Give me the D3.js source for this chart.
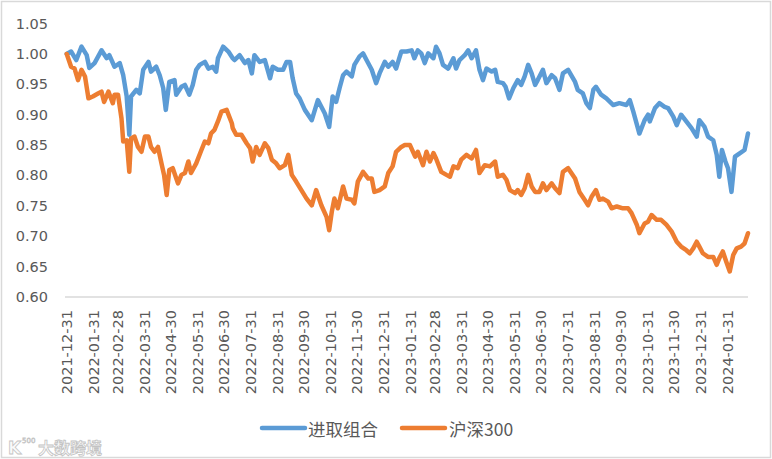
<!DOCTYPE html>
<html>
<head>
<meta charset="utf-8">
<script src="https://cdn.jsdelivr.net/npm/d3@7"></script>
<style>
  body { margin: 0; background: #fff; }
  text { font-family: "DejaVu Sans", sans-serif; }
</style>
</head>
<body>
<div class="chart"></div>
<script>
// series names (legend)
var seriesNames = ["进取组合", "沪深300"];

// [days after 2021-12-31, value]
var jinquData = [[0,1.000],[5,1.004],[11,0.990],[17,1.012],[23,0.998],[26,0.977],[32,0.985],[40,1.006],[46,0.993],[49,0.998],
  [55,0.979],[61,0.985],[65,0.965],[69,0.930],[72,0.867],[74,0.930],[80,0.941],[84,0.935],[88,0.974],[94,0.987],
  [97,0.971],[103,0.979],[107,0.965],[111,0.944],[114,0.908],[118,0.954],[124,0.957],[126,0.933],[132,0.946],[136,0.949],
  [141,0.933],[145,0.949],[149,0.974],[153,0.982],[159,0.987],[163,0.976],[168,0.979],[172,0.971],[174,0.993],[180,1.012],
  [186,1.004],[191,0.993],[193,0.990],[199,0.998],[205,0.985],[209,0.990],[213,0.968],[216,0.998],[222,0.987],[228,0.990],
  [234,0.960],[237,0.979],[243,0.974],[249,0.974],[253,0.987],[257,0.987],[260,0.960],[264,0.935],[268,0.927],[274,0.908],
  [282,0.891],[289,0.924],[293,0.913],[297,0.902],[302,0.880],[306,0.930],[310,0.921],[314,0.944],[318,0.965],[322,0.971],
  [328,0.963],[331,0.982],[337,0.996],[341,1.001],[345,0.990],[351,0.974],[356,0.952],[360,0.968],[366,0.987],[370,0.979],
  [375,0.987],[379,0.976],[385,1.004],[391,1.004],[397,1.006],[400,0.993],[404,1.006],[408,1.001],[412,0.985],[416,1.001],
  [422,0.993],[425,1.012],[429,1.001],[433,0.982],[439,0.976],[445,0.993],[448,0.976],[452,0.990],[458,0.998],[462,1.006],
  [466,0.993],[471,1.006],[475,0.974],[479,0.957],[483,0.976],[489,0.971],[493,0.974],[496,0.954],[502,0.952],[505,0.946],
  [509,0.927],[514,0.944],[519,0.957],[523,0.949],[527,0.963],[531,0.982],[535,0.968],[539,0.949],[542,0.957],[548,0.974],
  [552,0.952],[558,0.965],[562,0.960],[567,0.941],[571,0.968],[577,0.974],[585,0.954],[588,0.941],[594,0.935],[598,0.919],
  [602,0.911],[606,0.941],[609,0.946],[615,0.933],[621,0.927],[629,0.916],[636,0.919],[644,0.916],[648,0.924],[652,0.905],
  [659,0.869],[665,0.891],[669,0.900],[671,0.889],[677,0.911],[682,0.919],[688,0.913],[692,0.911],[698,0.897],[702,0.883],
  [707,0.900],[713,0.889],[719,0.878],[725,0.864],[728,0.891],[734,0.880],[738,0.864],[744,0.858],[748,0.834],[751,0.798],
  [754,0.842],[758,0.823],[761,0.812],[765,0.773],[769,0.831],[774,0.836],[780,0.842],[784,0.869]];

var hs300Data = [[0,1.000],[5,0.979],[9,0.976],[13,0.957],[17,0.974],[21,0.963],[25,0.927],[30,0.930],[36,0.935],[40,0.938],
  [43,0.921],[48,0.938],[53,0.919],[55,0.933],[59,0.933],[63,0.894],[65,0.856],[69,0.858],[72,0.806],[74,0.861],
  [78,0.864],[82,0.847],[86,0.839],[90,0.864],[94,0.864],[97,0.847],[101,0.839],[105,0.847],[109,0.820],[112,0.801],
  [115,0.768],[118,0.809],[122,0.812],[128,0.787],[132,0.801],[136,0.804],[140,0.823],[143,0.804],[149,0.820],[155,0.842],
  [159,0.856],[163,0.853],[166,0.869],[170,0.875],[174,0.889],[178,0.905],[184,0.908],[190,0.886],[191,0.878],[195,0.867],
  [201,0.867],[207,0.853],[211,0.845],[214,0.823],[218,0.847],[222,0.834],[228,0.853],[232,0.845],[236,0.826],[241,0.820],
  [245,0.812],[251,0.817],[255,0.834],[259,0.801],[264,0.790],[270,0.776],[276,0.762],[282,0.751],[287,0.776],[293,0.751],
  [299,0.732],[302,0.710],[305,0.740],[308,0.762],[312,0.746],[318,0.782],[322,0.762],[328,0.760],[331,0.754],[335,0.790],
  [341,0.806],[347,0.795],[351,0.795],[354,0.773],[360,0.776],[366,0.782],[370,0.804],[375,0.815],[379,0.839],[385,0.847],
  [389,0.850],[395,0.850],[401,0.831],[404,0.839],[410,0.817],[414,0.839],[418,0.823],[422,0.837],[425,0.828],[431,0.806],
  [437,0.801],[441,0.798],[445,0.815],[450,0.812],[454,0.826],[460,0.834],[466,0.828],[471,0.842],[475,0.804],[481,0.817],
  [487,0.815],[493,0.823],[496,0.798],[502,0.801],[506,0.793],[510,0.776],[516,0.771],[519,0.776],[523,0.768],[527,0.779],
  [531,0.801],[535,0.782],[539,0.773],[544,0.773],[548,0.787],[552,0.776],[558,0.787],[562,0.779],[567,0.771],[571,0.806],
  [577,0.812],[585,0.795],[590,0.773],[596,0.760],[600,0.751],[604,0.765],[609,0.776],[613,0.760],[617,0.762],[623,0.757],
  [627,0.746],[633,0.749],[640,0.746],[646,0.746],[650,0.738],[656,0.719],[659,0.705],[665,0.721],[669,0.724],[673,0.735],
  [679,0.727],[684,0.727],[690,0.719],[696,0.708],[702,0.691],[707,0.683],[713,0.677],[717,0.672],[721,0.680],[725,0.691],
  [728,0.683],[732,0.672],[738,0.666],[744,0.666],[748,0.653],[751,0.664],[755,0.675],[759,0.658],[763,0.642],[767,0.669],
  [771,0.680],[776,0.683],[780,0.688],[784,0.705]];

var xTickLabels = ["2021-12-31","2022-01-31","2022-02-28","2022-03-31","2022-04-30","2022-05-31","2022-06-30",
  "2022-07-31","2022-08-31","2022-09-30","2022-10-31","2022-11-30","2022-12-31","2023-01-31","2023-02-28",
  "2023-03-31","2023-04-30","2023-05-31","2023-06-30","2023-07-31","2023-08-31","2023-09-30","2023-10-31",
  "2023-11-30","2023-12-31","2024-01-31"];
var yTicks = [0.60, 0.65, 0.70, 0.75, 0.80, 0.85, 0.90, 0.95, 1.00, 1.05];

var colors = ["#5B9BD5", "#ED7D31"];

var width = 772, height = 459;
var parse = d3.timeParse("%Y-%m-%d");
var start = parse("2021-12-31");

var svg = d3.select("div.chart").append("svg")
    .attr("width", width)
    .attr("height", height);

// chart border
svg.append("rect")
    .attr("x", 1.5).attr("y", 1.5)
    .attr("width", width - 3).attr("height", height - 3)
    .attr("fill", "#fff")
    .attr("stroke", "#d9d9d9")
    .attr("stroke-width", 1.5);

var x = d3.scaleTime()
    .domain([parse("2021-12-29"), parse("2024-02-23")])
    .range([65, 748]);

var y = d3.scaleLinear()
    .domain([0.60, 1.05])
    .range([297, 23.6]);

// y labels (no axis line, no grid)
svg.append("g")
    .selectAll("text")
    .data(yTicks)
    .enter()
    .append("text")
    .attr("x", 48)
    .attr("y", d => y(d))
    .attr("text-anchor", "end")
    .attr("dominant-baseline", "central")
    .attr("fill", "#595959")
    .style("font-size", "14.5px")
    .text(d => d3.format(".2f")(d));

// x axis line
svg.append("line")
    .attr("x1", 65).attr("x2", 748)
    .attr("y1", y(0.60)).attr("y2", y(0.60))
    .attr("stroke", "#d9d9d9")
    .attr("stroke-width", 1.5);

// x tick labels, rotated
svg.append("g")
    .selectAll("text")
    .data(xTickLabels)
    .enter()
    .append("text")
    .attr("transform", d => "translate(" + x(parse(d)) + ",310) rotate(-90)")
    .attr("text-anchor", "end")
    .attr("dominant-baseline", "central")
    .attr("fill", "#595959")
    .style("font-size", "14.5px")
    .text(d => d);

var line = d3.line()
    .x(d => x(d3.timeDay.offset(start, d[0])))
    .y(d => y(d[1]));

[jinquData, hs300Data].forEach((data, i) => {
    svg.append("path")
        .datum(data)
        .attr("d", line)
        .attr("fill", "none")
        .attr("stroke", colors[i])
        .attr("stroke-width", 4.5)
        .attr("stroke-linejoin", "round")
        .attr("stroke-linecap", "round");
});

// legend
var legendItems = [{x: 262, tx: 308}, {x: 402, tx: 449}];
var legend = svg.append("g");
seriesNames.forEach((name, i) => {
    legend.append("line")
        .attr("x1", legendItems[i].x).attr("x2", legendItems[i].x + 43)
        .attr("y1", 428).attr("y2", 428)
        .attr("stroke", colors[i])
        .attr("stroke-width", 4.5)
        .attr("stroke-linecap", "round");
    legend.append("text")
        .attr("x", legendItems[i].tx)
        .attr("y", 428)
        .attr("dominant-baseline", "central")
        .attr("fill", "#595959")
        .style("font-family", "'Noto Sans CJK SC', sans-serif")
        .style("font-size", "17.5px")
        .text(name);
});

// watermark
var wm = svg.append("g").attr("opacity", 0.8);
wm.append("text")
    .attr("x", 8).attr("y", 454)
    .attr("fill", "#fafafa").attr("stroke", "#b5b5b5").attr("stroke-width", 0.8)
    .style("font-size", "17px").style("font-weight", "bold")
    .text("K");
wm.append("text")
    .attr("x", 22).attr("y", 443)
    .attr("fill", "#fafafa").attr("stroke", "#b5b5b5").attr("stroke-width", 0.6)
    .style("font-size", "7px")
    .text("500");
wm.append("text")
    .attr("x", 38).attr("y", 454)
    .attr("fill", "#fafafa").attr("stroke", "#b5b5b5").attr("stroke-width", 0.8)
    .style("font-family", "'Noto Sans CJK SC', sans-serif")
    .style("font-size", "16px").style("font-weight", "bold")
    .text("大数跨境");
</script>
</body>
</html>
